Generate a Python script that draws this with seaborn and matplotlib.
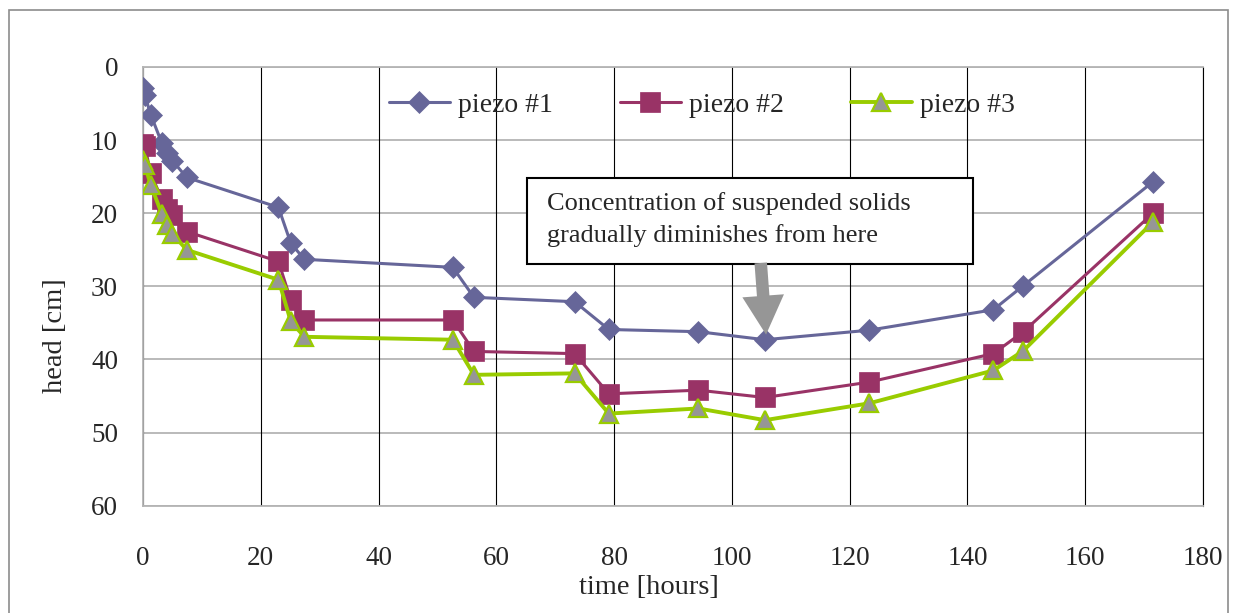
import matplotlib
matplotlib.use("Agg")
import matplotlib.pyplot as plt
import matplotlib.patches as mpatches
import numpy as np
import pandas as pd
import seaborn as sns

# ── data ──
time_h = [0.0, 0.3, 1.3, 3.2, 4.0, 5.0, 7.4, 23.0, 25.1, 27.4,
          52.6, 56.2, 73.3, 79.1, 94.3, 105.6, 123.3, 144.4, 149.5, 171.5]
piezo1 = [2.9, 3.8, 6.5, 10.4, 11.7, 12.8, 15.1, 19.2, 24.1, 26.3,
          27.4, 31.5, 32.1, 35.9, 36.2, 37.3, 36.0, 33.2, 29.9, 15.7]
piezo2 = [10.5, 10.8, 14.5, 18.1, 19.4, 20.3, 22.5, 26.6, 31.9, 34.6,
          34.6, 38.9, 39.2, 44.7, 44.2, 45.2, 43.1, 39.2, 36.2, 20.0]
piezo3 = [12.7, 13.4, 16.1, 20.1, 21.6, 22.8, 25.0, 29.1, 34.8, 36.9,
          37.3, 42.1, 41.9, 47.4, 46.7, 48.3, 46.0, 41.5, 38.8, 21.2]
series_names = ["piezo #1", "piezo #2", "piezo #3"]

x_ticks = [0, 20, 40, 60, 80, 100, 120, 140, 160, 180]
y_ticks = [0, 10, 20, 30, 40, 50, 60]

note_text = "Concentration of suspended solids\ngradually diminishes from here"
arrow_tip = (105.8, 36.6)
arrow_tail = (104.9, 26.8)

# ── style ──
sns.set_theme(style="white")
plt.rcParams["font.family"] = ["Liberation Serif", "DejaVu Serif"]

df = pd.DataFrame({"time": time_h, "piezo #1": piezo1, "piezo #2": piezo2, "piezo #3": piezo3})

fig = plt.figure(figsize=(12.36, 6.13), dpi=100)
ax = fig.add_axes([143 / 1236, 1 - 505.7 / 613, 1060 / 1236, 438.7 / 613])

styles = {
    "piezo #1": dict(color="#666699", marker="D", markersize=11, markerfacecolor="#666699",
                     markeredgecolor="#666699", markeredgewidth=0.5, linewidth=2.2),
    "piezo #2": dict(color="#993366", marker="s", markersize=14, markerfacecolor="#993366",
                     markeredgecolor="#993366", markeredgewidth=0.5, linewidth=2.2),
    "piezo #3": dict(color="#99CC00", marker="^", markersize=12.5, markerfacecolor="#969696",
                     markeredgecolor="#99CC00", markeredgewidth=1.6, linewidth=2.8),
}
for name in series_names:
    sns.lineplot(data=df, x="time", y=name, ax=ax, label=name, estimator=None, sort=False,
                 zorder=3, **styles[name])

ax.set_xlim(0, 180)
ax.set_ylim(60, 0)
ax.set_xticks(x_ticks)
ax.set_yticks(y_ticks)
ax.tick_params(axis="both", length=0, labelsize=19.5)
ax.tick_params(axis="y", pad=18)
ax.tick_params(axis="x", pad=29)

# gridlines: grey horizontal, black vertical
for y in y_ticks:
    ax.axhline(y, color="#b4b4b4", lw=1.3, zorder=1)
for x in x_ticks:
    ax.axvline(x, color="black", lw=0.8, zorder=1)
for side in ["left", "bottom", "top"]:
    ax.spines[side].set_color("#b4b4b4")
    ax.spines[side].set_linewidth(1.3)
ax.spines["right"].set_color("black")
ax.spines["right"].set_linewidth(0.8)

ax.set_xlabel("time [hours]", fontsize=20.5)
ax.set_ylabel("head [cm]", fontsize=20.5)
ax.xaxis.label.set_va("center")
ax.yaxis.label.set_va("center")
ax.xaxis.set_label_coords(0.477, -0.186)
ax.yaxis.set_label_coords(-0.083, 0.387)

ax.legend(loc="center left", bbox_to_anchor=(0.232, 0.913), ncol=3, frameon=False,
          fontsize=20, handlelength=2.2, handletextpad=0.3, columnspacing=2.4,
          borderpad=0, borderaxespad=0)

# note box + arrow
ax.add_patch(mpatches.Rectangle((0.362, 0.551), 0.421, 0.196, transform=ax.transAxes,
                                facecolor="white", edgecolor="black", lw=1.5, zorder=4))
ax.text(0.381, 0.652, note_text, transform=ax.transAxes, ha="left", va="center",
        fontsize=19, linespacing=1.5, zorder=5)
ax.annotate("", xy=arrow_tip, xytext=arrow_tail,
            arrowprops=dict(facecolor="#969696", edgecolor="none", width=9, headwidth=30,
                            headlength=28, shrink=0), zorder=6)

# chart-area border
fig.patches.append(mpatches.Rectangle((9 / 1236, -0.05), 1219 / 1236, 1.05 - 10 / 613,
                                      transform=fig.transFigure, fill=False,
                                      edgecolor="#8c8c8c", lw=1.2))

fig.savefig("out.png", dpi=100)
